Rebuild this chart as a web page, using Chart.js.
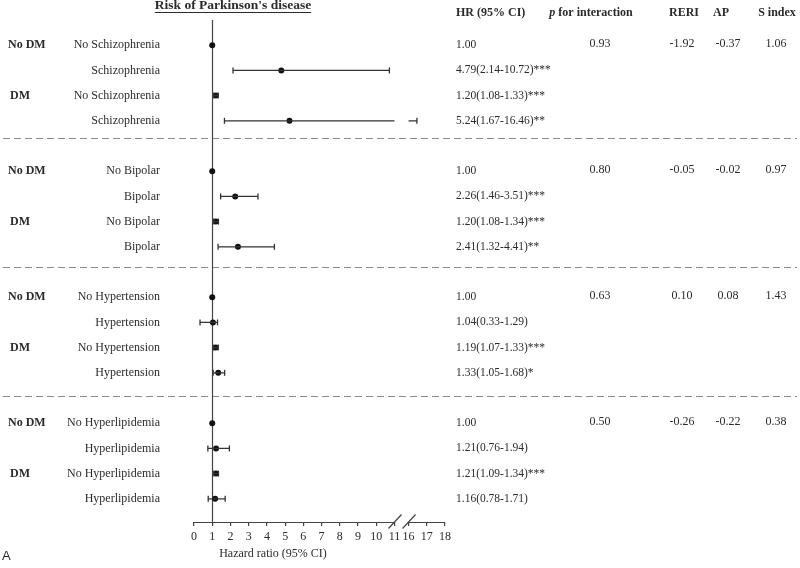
<!DOCTYPE html>
<html>
<head>
<meta charset="utf-8">
<script src="https://cdn.jsdelivr.net/npm/chart.js@4.4.1/dist/chart.umd.min.js"></script>
<style>
  html, body { margin: 0; padding: 0; background: #fff; }
  #wrap { width: 800px; height: 568px; }
</style>
</head>
<body>
<div id="wrap"><canvas id="forest" width="800" height="568"></canvas></div>
<script>
// rows of the plot, 4 groups x 4 rows
const rowLabels = [
  "No Schizophrenia", "Schizophrenia", "No Schizophrenia", "Schizophrenia",
  "No Bipolar", "Bipolar", "No Bipolar", "Bipolar",
  "No Hypertension", "Hypertension", "No Hypertension", "Hypertension",
  "No Hyperlipidemia", "Hyperlipidemia", "No Hyperlipidemia", "Hyperlipidemia"
];
const dmLabels = ["No DM", "", "DM", ""];
const hr = [1.00, 4.79, 1.20, 5.24, 1.00, 2.26, 1.20, 2.41, 1.00, 1.04, 1.19, 1.33, 1.00, 1.21, 1.21, 1.16];
const ciLow = [null, 2.14, 1.08, 1.67, null, 1.46, 1.08, 1.32, null, 0.33, 1.07, 1.05, null, 0.76, 1.09, 0.78];
const ciHigh = [null, 10.72, 1.33, 16.46, null, 3.51, 1.34, 4.41, null, 1.29, 1.33, 1.68, null, 1.94, 1.34, 1.71];
const hrText = [
  "1.00", "4.79(2.14-10.72)***", "1.20(1.08-1.33)***", "5.24(1.67-16.46)**",
  "1.00", "2.26(1.46-3.51)***", "1.20(1.08-1.34)***", "2.41(1.32-4.41)**",
  "1.00", "1.04(0.33-1.29)", "1.19(1.07-1.33)***", "1.33(1.05-1.68)*",
  "1.00", "1.21(0.76-1.94)", "1.21(1.09-1.34)***", "1.16(0.78-1.71)"
];
const pInteraction = ["0.93", "0.80", "0.63", "0.50"];
const reri = ["-1.92", "-0.05", "0.10", "-0.26"];
const ap = ["-0.37", "-0.02", "0.08", "-0.22"];
const sIndex = ["1.06", "0.97", "1.43", "0.38"];
const xTicks = [0, 1, 2, 3, 4, 5, 6, 7, 8, 9, 10, 11, 16, 17, 18];

// broken x axis: 11 -> 16 squeezed into a small gap
const BREAK_LO = 11, BREAK_HI = 16, BREAK_GAP = 0.77;
const toAxis = (v) => (v <= BREAK_LO ? v : v - BREAK_HI + BREAK_LO + BREAK_GAP);
// row i sits at position group*5 + row (one blank slot between groups)
const rowPos = (i) => Math.floor(i / 4) * 5 + (i % 4);
const rowTicks = rowLabels.map((_, i) => rowPos(i));
const sepPos = [3.69, 8.79, 13.93];

const SERIF = "'Liberation Serif', 'Times New Roman', serif";
const INK = "#2b2b2b";

// CI segments (gaps between rows, split at the axis break)
const ciLine = [];
const caps = [];
hr.forEach((v, i) => {
  if (ciLow[i] == null) return;
  const y = rowPos(i);
  if (ciLow[i] < BREAK_LO && ciHigh[i] > BREAK_HI) {
    ciLine.push({ x: toAxis(ciLow[i]), y }, { x: toAxis(BREAK_LO), y }, { x: null, y: null });
    ciLine.push({ x: toAxis(BREAK_HI), y }, { x: toAxis(ciHigh[i]), y }, { x: null, y: null });
  } else {
    ciLine.push({ x: toAxis(ciLow[i]), y }, { x: toAxis(ciHigh[i]), y }, { x: null, y: null });
  }
  caps.push({ x: toAxis(ciLow[i]), y }, { x: toAxis(ciHigh[i]), y });
});
const points = hr.map((v, i) => ({ x: toAxis(v), y: rowPos(i) }));

const forestDecor = {
  id: "forestDecor",
  beforeDatasetsDraw(chart) {
    const { ctx, chartArea, scales } = chart;
    const xs = scales.x, ys = scales.y;
    ctx.save();
    // dashed group separators
    ctx.strokeStyle = "#8a8a8a";
    ctx.lineWidth = 1;
    ctx.setLineDash([7, 4]);
    sepPos.forEach((p) => {
      const y = Math.round(ys.getPixelForValue(p)) + 0.5;
      ctx.beginPath();
      ctx.moveTo(3, y);
      ctx.lineTo(797, y);
      ctx.stroke();
    });
    ctx.setLineDash([]);
    // reference line at HR = 1
    const x1 = Math.round(xs.getPixelForValue(1)) + 0.5;
    ctx.strokeStyle = "#444";
    ctx.lineWidth = 1.2;
    ctx.beginPath();
    ctx.moveTo(x1, chartArea.top);
    ctx.lineTo(x1, chartArea.bottom);
    ctx.stroke();
    // x axis line with break marks
    const yb = chartArea.bottom + 0.5;
    const xa = xs.getPixelForValue(toAxis(BREAK_LO));
    const xb = xs.getPixelForValue(toAxis(BREAK_HI));
    ctx.lineWidth = 1.2;
    ctx.beginPath();
    ctx.moveTo(xs.getPixelForValue(0), yb);
    ctx.lineTo(xa, yb);
    ctx.moveTo(xb, yb);
    ctx.lineTo(xs.getPixelForValue(toAxis(18)), yb);
    [xa, xb].forEach((cx) => {
      ctx.moveTo(cx - 6, yb + 6);
      ctx.lineTo(cx + 7, yb - 8);
    });
    ctx.stroke();
    ctx.restore();
  },
  afterDraw(chart) {
    const { ctx, scales } = chart;
    const ys = scales.y;
    ctx.save();
    ctx.fillStyle = INK;
    ctx.textBaseline = "middle";

    // title with underline
    ctx.font = "bold 13.5px " + SERIF;
    ctx.textAlign = "center";
    const title = "Risk of Parkinson's disease";
    ctx.fillText(title, 233, 6);
    const tw = ctx.measureText(title).width;
    ctx.fillRect(233 - tw / 2, 12, tw, 1);

    // column headers
    ctx.font = "bold 12px " + SERIF;
    ctx.textAlign = "left";
    ctx.fillText("HR (95% CI)", 456, 13);
    ctx.textAlign = "center";
    ctx.fillText("RERI", 684, 13);
    ctx.fillText("AP", 721, 13);
    ctx.fillText("S index", 777, 13);
    const pRest = " for interaction";
    ctx.font = "bold 12px " + SERIF;
    const wRest = ctx.measureText(pRest).width;
    ctx.font = "italic bold 12px " + SERIF;
    const wP = ctx.measureText("p").width;
    const px0 = 591 - (wP + wRest) / 2;
    ctx.textAlign = "left";
    ctx.fillText("p", px0, 13);
    ctx.font = "bold 12px " + SERIF;
    ctx.fillText(pRest, px0 + wP, 13);

    // DM group labels
    ctx.font = "bold 12px " + SERIF;
    ctx.textAlign = "left";
    hr.forEach((_, i) => {
      const lab = dmLabels[i % 4];
      if (!lab) return;
      ctx.fillText(lab, lab === "DM" ? 10 : 8, ys.getPixelForValue(rowPos(i)));
    });

    // interaction statistics (first row of each group)
    ctx.font = "12px " + SERIF;
    ctx.textAlign = "center";
    pInteraction.forEach((p, g) => {
      const y = ys.getPixelForValue(g * 5) - 1;
      ctx.fillText(p, 600, y);
      ctx.fillText(reri[g], 682, y);
      ctx.fillText(ap[g], 728, y);
      ctx.fillText(sIndex[g], 776, y);
    });

    // x axis title
    ctx.font = "12px " + SERIF;
    ctx.fillText("Hazard ratio (95% CI)", 273, 554);

    // panel letter
    ctx.font = "13px 'Liberation Sans', Arial, sans-serif";
    ctx.textAlign = "left";
    ctx.fillText("A", 2, 556);
    ctx.restore();
  }
};

new Chart(document.getElementById("forest"), {
  type: "line",
  data: {
    datasets: [
      {
        label: "CI",
        data: ciLine,
        borderColor: "#333",
        borderWidth: 1.3,
        pointRadius: 0,
        spanGaps: false,
        fill: false
      },
      {
        label: "caps",
        type: "scatter",
        data: caps,
        pointStyle: "line",
        rotation: 90,
        radius: 3,
        borderColor: "#333",
        borderWidth: 1.3
      },
      {
        label: "HR",
        type: "scatter",
        data: points,
        pointStyle: "circle",
        radius: 3,
        backgroundColor: "#111",
        borderColor: "#111",
        borderWidth: 0
      }
    ]
  },
  options: {
    responsive: false,
    devicePixelRatio: 1,
    animation: false,
    events: [],
    layout: { padding: { top: 20, left: 0, right: 0, bottom: 0 } },
    plugins: { legend: { display: false }, tooltip: { enabled: false } },
    scales: {
      x: {
        type: "linear",
        min: 0,
        max: toAxis(18),
        afterBuildTicks: (s) => { s.ticks = xTicks.map((v) => ({ value: toAxis(v) })); },
        afterFit: (s) => { s.height = 46; },
        border: { display: false },
        grid: { drawOnChartArea: false, drawTicks: true, tickLength: 4, color: "#444", lineWidth: 1.2 },
        ticks: {
          autoSkip: false,
          maxRotation: 0,
          padding: 4,
          color: INK,
          font: { family: SERIF, size: 12 },
          callback: (v, i) => String(xTicks[i])
        }
      },
      y: {
        type: "linear",
        position: "left",
        reverse: true,
        min: -1,
        max: 18.92,
        afterBuildTicks: (s) => { s.ticks = rowTicks.map((v) => ({ value: v })); },
        afterFit: (s) => { s.width = 194; s.paddingTop = 0; s.paddingBottom = 0; },
        border: { display: false },
        grid: { display: false, drawTicks: false },
        ticks: {
          autoSkip: false,
          padding: 34,
          color: INK,
          font: { family: SERIF, size: 12 },
          callback: (v, i) => rowLabels[i]
        }
      },
      y2: {
        type: "linear",
        position: "right",
        reverse: true,
        min: -1,
        max: 18.92,
        afterBuildTicks: (s) => { s.ticks = rowTicks.map((v) => ({ value: v })); },
        afterFit: (s) => { s.width = 355; s.paddingTop = 0; s.paddingBottom = 0; },
        border: { display: false },
        grid: { display: false, drawTicks: false },
        ticks: {
          autoSkip: false,
          padding: 11,
          color: INK,
          font: { family: SERIF, size: 11.5 },
          callback: (v, i) => hrText[i]
        }
      }
    }
  },
  plugins: [forestDecor]
});
</script>
</body>
</html>
